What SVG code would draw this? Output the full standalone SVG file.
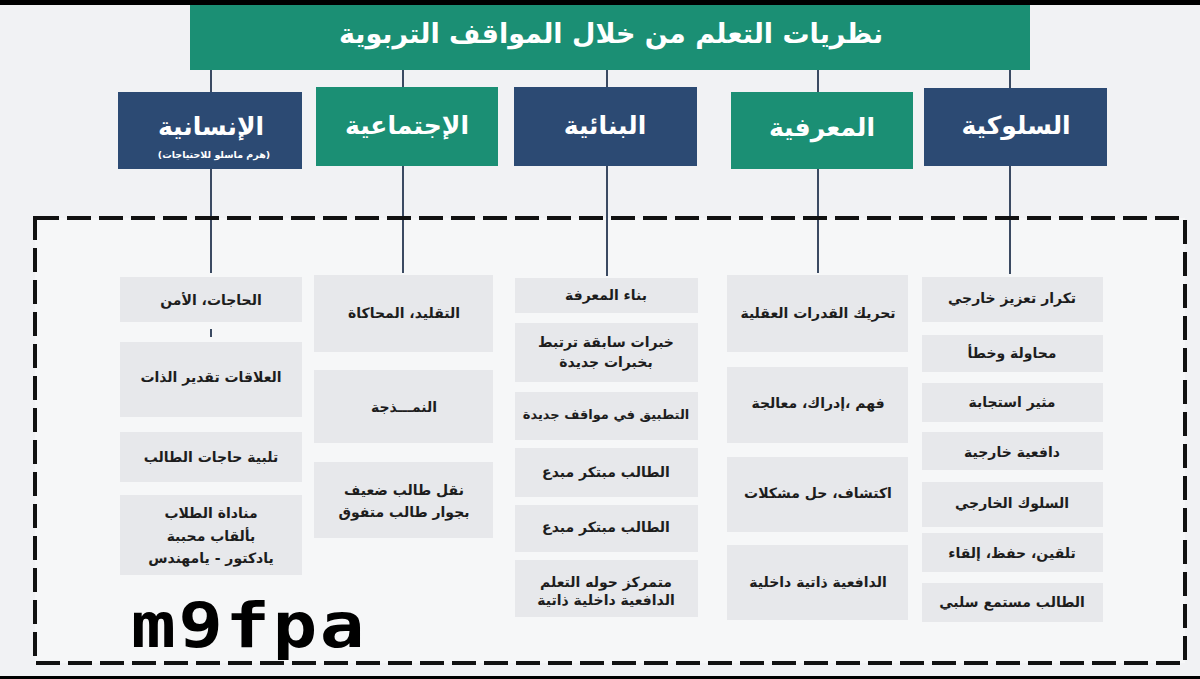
<svg xmlns="http://www.w3.org/2000/svg" width="1200" height="679" viewBox="0 0 1200 679">
<style>
.ar{font-family:"DejaVu Sans","Noto Sans",sans-serif;font-weight:bold;direction:rtl;unicode-bidi:embed;text-anchor:middle}
.title{font-size:27px;fill:#ffffff}
.cat{font-size:25px;fill:#ffffff}
.sub{font-size:9.5px;fill:#ffffff}
.item{font-size:14px;fill:#1d1d1d}
.box{fill:#e7e8eb}
.navy{fill:#2c4a73}
.teal{fill:#1b8f74}
.conn{stroke:#3b4a62;stroke-width:2;fill:none}
.dash{stroke:#111111;stroke-width:4;fill:none;stroke-dasharray:24 8}
</style>
<rect x="0" y="0" width="1200" height="679" fill="#f1f2f4"/>
<rect x="0" y="0" width="1200" height="5" fill="#000"/>
<rect x="0" y="676" width="1200" height="3" fill="#000"/>
<rect x="35" y="218" width="1150" height="445" fill="#f6f7f8"/>

<g id="connectors">
  <line class="conn" x1="211" y1="70" x2="211" y2="92"/>
  <line class="conn" x1="403" y1="70" x2="403" y2="87"/>
  <line class="conn" x1="607" y1="70" x2="607" y2="87"/>
  <line class="conn" x1="818" y1="70" x2="818" y2="92"/>
  <line class="conn" x1="1010" y1="70" x2="1010" y2="88"/>
  <line class="conn" x1="211" y1="169" x2="211" y2="273"/>
  <line class="conn" x1="403" y1="166" x2="403" y2="273"/>
  <line class="conn" x1="607" y1="166" x2="607" y2="276"/>
  <line class="conn" x1="818" y1="169" x2="818" y2="273"/>
  <line class="conn" x1="1010" y1="166" x2="1010" y2="274"/>
  <line class="conn" x1="211" y1="329" x2="211" y2="337"/>
</g>

<rect class="dash" x="35" y="218" width="1150" height="445"/>

<g id="header">
  <rect class="teal" x="190" y="5" width="840" height="65"/>
  <text class="ar title" x="611" y="43">نظريات التعلم من خلال المواقف التربوية</text>
</g>

<g id="cat-insaniya">
  <rect class="navy" x="118" y="92" width="184" height="77"/>
  <text class="ar cat" x="211" y="135">الإنسانية</text>
  <text class="ar sub" x="214" y="158">(هرم ماسلو للاحتياجات)</text>
</g>
<g id="cat-ijtimaiya">
  <rect class="teal" x="316" y="87" width="182" height="79"/>
  <text class="ar cat" x="407" y="134">الإجتماعية</text>
</g>
<g id="cat-binaiya">
  <rect class="navy" x="514" y="87" width="183" height="79"/>
  <text class="ar cat" x="605" y="134">البنائية</text>
</g>
<g id="cat-marifiya">
  <rect class="teal" x="731" y="92" width="182" height="77"/>
  <text class="ar cat" x="822" y="136">المعرفية</text>
</g>
<g id="cat-sulukiya">
  <rect class="navy" x="924" y="88" width="183" height="78"/>
  <text class="ar cat" x="1016" y="134">السلوكية</text>
</g>

<!-- column 1 -->
<g id="n1-1"><rect class="box" x="120" y="277" width="182" height="45"/><text class="ar item" x="211" y="305">الحاجات، الأمن</text></g>
<g id="n1-2"><rect class="box" x="120" y="342" width="182" height="75"/><text class="ar item" x="211" y="382">العلاقات تقدير الذات</text></g>
<g id="n1-3"><rect class="box" x="120" y="432" width="182" height="50"/><text class="ar item" x="211" y="462">تلبية حاجات الطالب</text></g>
<g id="n1-4"><rect class="box" x="120" y="495" width="182" height="80"/>
  <text class="ar item" x="211" y="518">مناداة الطلاب</text>
  <text class="ar item" x="211" y="541">بألقاب محببة</text>
  <text class="ar item" x="211" y="563">يادكتور - يامهندس</text></g>

<!-- column 2 -->
<g id="n2-1"><rect class="box" x="314" y="275" width="179" height="77"/><text class="ar item" x="404" y="318">التقليد، المحاكاة</text></g>
<g id="n2-2"><rect class="box" x="314" y="370" width="179" height="73"/><text class="ar item" x="404" y="412">النمـــذجة</text></g>
<g id="n2-3"><rect class="box" x="314" y="462" width="179" height="76"/>
  <text class="ar item" x="404" y="495">نقل طالب ضعيف</text>
  <text class="ar item" x="404" y="517">بجوار طالب متفوق</text></g>

<!-- column 3 -->
<g id="n3-1"><rect class="box" x="515" y="278" width="183" height="35"/><text class="ar item" x="606" y="300">بناء المعرفة</text></g>
<g id="n3-2"><rect class="box" x="515" y="323" width="183" height="59"/>
  <text class="ar item" x="606" y="347">خبرات سابقة ترتبط</text>
  <text class="ar item" x="606" y="367">بخبرات جديدة</text></g>
<g id="n3-3"><rect class="box" x="515" y="392" width="183" height="48"/><text class="ar item" x="606" y="419" style="font-size:13px">التطبيق في مواقف جديدة</text></g>
<g id="n3-4"><rect class="box" x="515" y="448" width="183" height="49"/><text class="ar item" x="606" y="477">الطالب مبتكر مبدع</text></g>
<g id="n3-5"><rect class="box" x="515" y="505" width="183" height="47"/><text class="ar item" x="606" y="532">الطالب مبتكر مبدع</text></g>
<g id="n3-6"><rect class="box" x="515" y="560" width="183" height="57"/>
  <text class="ar item" x="606" y="587">متمركز حوله التعلم</text>
  <text class="ar item" x="606" y="605">الدافعية داخلية ذاتية</text></g>

<!-- column 4 -->
<g id="n4-1"><rect class="box" x="727" y="275" width="181" height="77"/><text class="ar item" x="818" y="318">تحريك القدرات العقلية</text></g>
<g id="n4-2"><rect class="box" x="727" y="367" width="181" height="76"/><text class="ar item" x="818" y="408">فهم ،إدراك، معالجة</text></g>
<g id="n4-3"><rect class="box" x="727" y="457" width="181" height="75"/><text class="ar item" x="818" y="498">اكتشاف، حل مشكلات</text></g>
<g id="n4-4"><rect class="box" x="727" y="545" width="181" height="75"/><text class="ar item" x="818" y="587">الدافعية ذاتية داخلية</text></g>

<!-- column 5 -->
<g id="n5-1"><rect class="box" x="922" y="277" width="181" height="45"/><text class="ar item" x="1012" y="303">تكرار تعزيز خارجي</text></g>
<g id="n5-2"><rect class="box" x="922" y="335" width="181" height="37"/><text class="ar item" x="1012" y="358">محاولة وخطأ</text></g>
<g id="n5-3"><rect class="box" x="922" y="383" width="181" height="39"/><text class="ar item" x="1012" y="407">مثير استجابة</text></g>
<g id="n5-4"><rect class="box" x="922" y="432" width="181" height="38"/><text class="ar item" x="1012" y="457">دافعية خارجية</text></g>
<g id="n5-5"><rect class="box" x="922" y="482" width="181" height="45"/><text class="ar item" x="1012" y="508">السلوك الخارجي</text></g>
<g id="n5-6"><rect class="box" x="922" y="533" width="181" height="39"/><text class="ar item" x="1012" y="558">تلقين، حفظ، إلقاء</text></g>
<g id="n5-7"><rect class="box" x="922" y="583" width="181" height="39"/><text class="ar item" x="1012" y="607">الطالب مستمع سلبي</text></g>

<text transform="translate(131,647) scale(1.2,1)" font-family="DejaVu Sans Mono, monospace" font-weight="bold" font-size="62" letter-spacing="2" fill="#000">m9fpa</text>
</svg>
